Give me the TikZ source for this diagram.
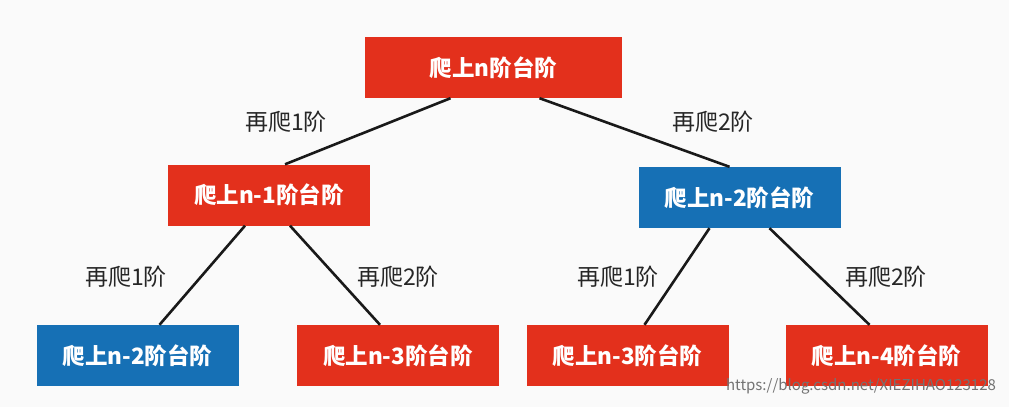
\documentclass[tikz,border=0pt]{standalone}
\usepackage{fontspec}
\setmainfont{Noto Sans CJK SC}
\definecolor{bred}{HTML}{E3301C}
\definecolor{bblue}{HTML}{1670B5}
\begin{document}
\begin{tikzpicture}[x=1pt,y=-1pt,
  box/.style={minimum width=202pt,minimum height=61pt,text=white,font=\fontsize{22.5}{26}\selectfont\bfseries,inner sep=0pt},
  rbox/.style={box,fill=bred},
  bbox/.style={box,fill=bblue},
  lab/.style={font=\fontsize{23}{27}\selectfont,text=black!85},
  conn/.style={line width=2.6pt,black!90}]
\fill[white!96!gray] (0,0) rectangle (1009,407);
\useasboundingbox (0,0) rectangle (1009,407);
\node[rbox,minimum width=257pt] (t) at (493.5,67.5) {爬上n阶台阶};
\node[rbox] (l) at (269,195) {爬上n-1阶台阶};
\node[bbox] (r) at (739.5,197.5) {爬上n-2阶台阶};
\node[bbox] (b1) at (137.5,355.5) {爬上n-2阶台阶};
\node[rbox] (b2) at (398,355.5) {爬上n-3阶台阶};
\node[rbox] (b3) at (627.5,355.5) {爬上n-3阶台阶};
\node[rbox] (b4) at (886.5,355.5) {爬上n-4阶台阶};
\draw[conn] ([xshift=-43pt]t.south) -- ([xshift=16pt]l.north);
\draw[conn] ([xshift=46pt]t.south) -- ([xshift=-10pt]r.north);
\draw[conn] ([xshift=-24pt]l.south) -- ([xshift=22pt]b1.north);
\draw[conn] ([xshift=21pt]l.south) -- ([xshift=-18pt]b2.north);
\draw[conn] ([xshift=-30pt]r.south) -- ([xshift=17pt]b3.north);
\draw[conn] ([xshift=30pt]r.south) -- ([xshift=-17pt]b4.north);
\node[lab] (a1) at (286,122) {再爬1阶};
\node[lab] (a2) at (713,122) {再爬2阶};
\node[lab] (a3) at (126,277) {再爬1阶};
\node[lab] (a4) at (398,277) {再爬2阶};
\node[lab] (a5) at (618,277) {再爬1阶};
\node[lab] (a6) at (886,277) {再爬2阶};
\node[font=\fontsize{15}{17}\selectfont,text=black!55] (w) at (861,386) {https://blog.csdn.net/XIEZIHAO123128};
\end{tikzpicture}
\end{document}
